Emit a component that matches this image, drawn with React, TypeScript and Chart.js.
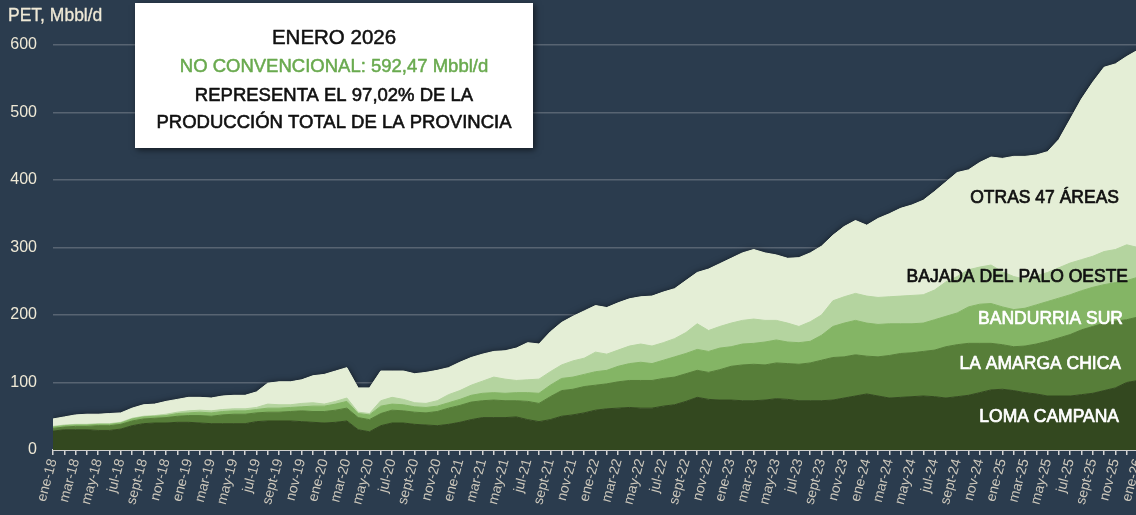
import React, { useEffect, useRef } from 'react';
import { Chart, registerables } from 'chart.js';

Chart.register(...registerables);

// ---------- data ----------
const monthNames = ['ene', 'feb', 'mar', 'abr', 'may', 'jun', 'jul', 'ago', 'sept', 'oct', 'nov', 'dic'];
const yearSuffixes = ['18', '19', '20', '21', '22', '23', '24', '25', '26'];
const categories: string[] = yearSuffixes
  .flatMap((y) => monthNames.map((m) => `${m}-${y}`))
  .slice(0, 97);

const lomaCampana = [
  28, 30, 30, 30, 29, 29, 31, 36, 39, 40,
  40, 41, 41, 40, 39, 39, 39, 39, 42, 43,
  43, 43, 42, 41, 40, 41, 43, 30, 27, 36,
  40, 40, 38, 37, 36, 38, 41, 45, 48, 48,
  48, 49, 45, 42, 45, 50, 52, 55, 59, 61,
  62, 63, 62, 62, 65, 67, 72, 78, 75, 74,
  74, 73, 73, 74, 76, 75, 73, 73, 73, 74,
  77, 80, 83, 80, 77, 78, 79, 80, 79, 77,
  79, 81, 85, 89, 90, 88, 85, 83, 80, 80,
  80, 82, 84, 88, 92, 100, 103,
];
const laAmargaChica = [
  4, 4, 5, 5, 7, 7, 7, 7, 7, 7,
  8, 9, 10, 11, 11, 13, 14, 14, 13, 13,
  13, 14, 16, 16, 17, 18, 19, 18, 18, 18,
  19, 18, 18, 18, 21, 24, 25, 26, 25, 26,
  25, 24, 27, 27, 34, 38, 38, 39, 37, 37,
  39, 40, 41, 41, 41, 41, 41, 40, 40, 45,
  50, 53, 54, 52, 53, 53, 54, 56, 60, 63,
  61, 61, 56, 58, 63, 65, 65, 66, 69, 76,
  77, 77, 73, 69, 66, 65, 69, 74, 81, 86,
  91, 96, 99, 100, 99, 93, 94,
];
const bandurriaSur = [
  2, 2, 2, 2, 2, 2, 2, 3, 3, 3,
  3, 4, 4, 5, 5, 5, 5, 5, 5, 6,
  6, 6, 6, 8, 8, 9, 10, 6, 7, 11,
  9, 9, 8, 8, 8, 8, 9, 10, 11, 11,
  11, 12, 13, 15, 17, 18, 18, 18, 20, 20,
  23, 25, 27, 25, 27, 30, 30, 31, 31, 32,
  29, 31, 31, 34, 34, 32, 32, 32, 37, 46,
  50, 51, 49, 48, 47, 44, 43, 42, 45, 45,
  47, 54, 58, 59, 56, 55, 56, 58, 59, 59,
  59, 58, 58, 57, 57, 58, 59,
];
const bajadaPaloOeste = [
  1, 1, 1, 1, 1, 1, 1, 1, 1, 1,
  2, 2, 3, 3, 3, 3, 3, 3, 3, 6,
  5, 4, 5, 5, 3, 4, 5, 2, 2, 8,
  10, 8, 6, 6, 8, 12, 13, 15, 18, 23,
  21, 18, 19, 21, 20, 20, 24, 24, 29, 24,
  24, 26, 27, 26, 26, 27, 31, 38, 31, 32,
  35, 35, 36, 32, 29, 28, 24, 29, 30, 38,
  39, 40, 40, 40, 40, 41, 42, 42, 44, 51,
  54, 55, 55, 57, 52, 49, 43, 43, 43, 45,
  47, 46, 46, 49, 49, 53, 44,
];
const otrasAreas = [
  11, 12, 14, 15, 14, 15, 14, 15, 17, 17,
  19, 19, 20, 19, 19, 20, 20, 20, 23, 31,
  34, 34, 35, 40, 44, 45, 45, 36, 38, 44,
  39, 42, 43, 46, 45, 40, 42, 41, 40, 38,
  42, 48, 55, 52, 59, 63, 66, 70, 69, 69,
  70, 70, 70, 74, 75, 74, 77, 76, 91, 93,
  96, 100, 103, 100, 97, 96, 102, 102, 102, 97,
  104, 108, 105, 117, 123, 130, 134, 140, 146, 148,
  154, 148, 155, 160, 168, 178, 182, 179, 179, 190,
  213, 238, 258, 273, 275, 279, 292.47,
];

const seriesNames = ['LOMA CAMPANA', 'LA AMARGA CHICA', 'BANDURRIA SUR', 'BAJADA DEL PALO OESTE', 'OTRAS 47 ÁREAS'];
const seriesValues = [lomaCampana, laAmargaChica, bandurriaSur, bajadaPaloOeste, otrasAreas];
const seriesColors = ['#33481f', '#577e39', '#84b565', '#b4d49f', '#e4eed6'];
const seriesLabelColors = ['#ffffff', '#ffffff', '#ffffff', '#111111', '#111111'];

const axisTitle = 'PET, Mbbl/d';
const boxLines = [
  'ENERO 2026',
  'NO CONVENCIONAL: 592,47 Mbbl/d',
  'REPRESENTA EL 97,02% DE LA',
  'PRODUCCIÓN TOTAL DE LA PROVINCIA',
];

// ---------- style ----------
const BG = '#2b3c4e';
const FONT = '"Liberation Sans", Arial, sans-serif';
const CREAM = '#efe9d6';

// label positions (right edge x, center y) per series
const labelPos = [
  [1119, 417],
  [1121, 364],
  [1123, 319],
  [1128, 277],
  [1119, 198],
];

function heavyText(ctx: any, text: string, x: number, y: number, color: string, w = 0.6) {
  ctx.fillStyle = color;
  ctx.strokeStyle = color;
  ctx.lineWidth = w;
  ctx.lineJoin = 'round';
  ctx.fillText(text, x, y);
  ctx.strokeText(text, x, y);
}

const overlayPlugin = {
  id: 'overlay',
  beforeDraw(chart: any) {
    const { ctx, width, height } = chart;
    ctx.save();
    ctx.fillStyle = BG;
    ctx.fillRect(0, 0, width, height);
    ctx.restore();
  },
  beforeDatasetsDraw(chart: any) {
    const { ctx, chartArea } = chart;
    const meta = chart.getDatasetMeta(chart.data.datasets.length - 1);
    const pts = meta.data;
    if (!pts || !pts.length) return;
    ctx.save();
    ctx.beginPath();
    ctx.rect(chartArea.left, 0, chartArea.right - chartArea.left, chartArea.bottom);
    ctx.clip();
    ctx.beginPath();
    ctx.moveTo(pts[0].x, chartArea.bottom);
    for (const p of pts) ctx.lineTo(p.x, p.y);
    ctx.lineTo(pts[pts.length - 1].x, chartArea.bottom);
    ctx.closePath();
    ctx.shadowColor = 'rgba(0,0,0,0.75)';
    ctx.shadowBlur = 7;
    ctx.shadowOffsetY = 1;
    ctx.fillStyle = seriesColors[seriesColors.length - 1];
    ctx.fill();
    ctx.restore();
  },
  afterDraw(chart: any) {
    const { ctx } = chart;
    ctx.save();
    // axis title
    ctx.font = `17.5px ${FONT}`;
    ctx.textAlign = 'left';
    ctx.textBaseline = 'middle';
    heavyText(ctx, axisTitle, 8, 16, CREAM, 0.3);

    // series labels
    ctx.font = `17.5px ${FONT}`;
    ctx.textAlign = 'right';
    seriesNames.forEach((name, i) => {
      heavyText(ctx, name, labelPos[i][0], labelPos[i][1], seriesLabelColors[i], 0.7);
    });

    // annotation box
    ctx.save();
    ctx.shadowColor = 'rgba(0,0,0,0.55)';
    ctx.shadowBlur = 6;
    ctx.shadowOffsetX = 2;
    ctx.shadowOffsetY = 2;
    ctx.fillStyle = '#ffffff';
    ctx.fillRect(135, 3, 398, 145);
    ctx.restore();

    ctx.textAlign = 'center';
    ctx.textBaseline = 'middle';
    const cx = 334;
    ctx.font = `20.5px ${FONT}`;
    heavyText(ctx, boxLines[0], cx, 38, '#111111', 0.5);
    ctx.font = `18.5px ${FONT}`;
    heavyText(ctx, boxLines[1], cx, 67, '#6aaa4f', 0.5);
    heavyText(ctx, boxLines[2], cx, 96, '#111111', 0.6);
    heavyText(ctx, boxLines[3], cx, 123, '#111111', 0.6);
    ctx.restore();
  },
};

export default function App() {
  const canvasRef = useRef<HTMLCanvasElement | null>(null);

  useEffect(() => {
    document.body.style.margin = '0';
    document.body.style.background = BG;
    const canvas = canvasRef.current;
    if (!canvas) return;
    const chart = new Chart(canvas, {
      type: 'line',
      data: {
        labels: categories,
        datasets: seriesValues.map((vals, i) => ({
          label: seriesNames[i],
          data: vals,
          backgroundColor: seriesColors[i],
          borderColor: seriesColors[i],
          borderWidth: 1,
          pointRadius: 0,
          tension: 0,
          fill: i === 0 ? 'origin' : '-1',
        })),
      },
      options: {
        responsive: false,
        animation: false,
        layout: { padding: { top: 45, right: 22, bottom: 0, left: 0 } },
        plugins: {
          legend: { display: false },
          tooltip: { enabled: false },
          title: { display: false },
        },
        scales: {
          x: {
            type: 'category',
            grid: {
              drawOnChartArea: false,
              drawTicks: true,
              tickLength: 5,
              color: '#d2d2d2',
              lineWidth: 1.5,
            },
            border: { display: true, color: '#cfcfcf', width: 2 },
            ticks: {
              autoSkip: false,
              minRotation: 75,
              maxRotation: 75,
              padding: 2,
              color: '#cdc8bc',
              font: { family: FONT, size: 14 },
              callback: (_v: any, i: number) => (i % 2 === 0 ? categories[i] : ''),
            },
            afterFit: (s: any) => {
              s.height = 65;
            },
          },
          y: {
            stacked: true,
            min: 0,
            max: 600,
            ticks: {
              stepSize: 100,
              color: CREAM,
              padding: 16,
              font: { family: FONT, size: 16 },
            },
            grid: { color: '#586472', lineWidth: 1.5, drawTicks: false },
            border: { display: false },
            afterFit: (s: any) => {
              s.width = 53;
            },
          },
        },
      },
      plugins: [overlayPlugin],
    } as any);
    return () => chart.destroy();
  }, []);

  return (
    <div style={{ width: 1136, height: 515, overflow: 'hidden', background: BG, position: 'relative' }}>
      <canvas ref={canvasRef} width={1160} height={515} style={{ display: 'block' }} />
    </div>
  );
}
